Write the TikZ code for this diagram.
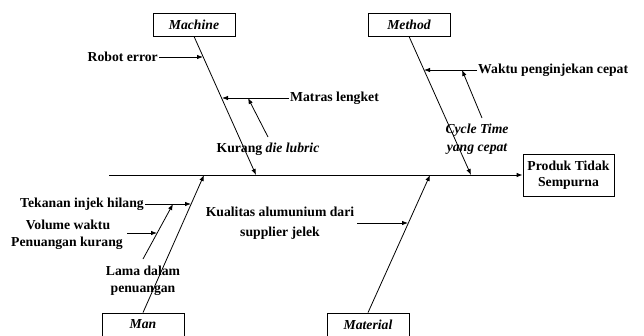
\documentclass[tikz,border=0pt]{standalone}
\usepackage{fontspec}
\setmainfont{Liberation Serif}[BoldFont={Liberation Serif Bold}, BoldItalicFont={Liberation Serif Bold Italic}, ItalicFont={Liberation Serif Italic}]
\usetikzlibrary{arrows.meta}
\begin{document}
\begin{tikzpicture}[x=1pt,y=-1pt,
  font=\fontsize{13.7}{17.5}\selectfont\bfseries,
  box/.style={draw, line width=0.8pt, inner sep=0pt, minimum width=82pt, minimum height=23pt, font=\fontsize{13.7}{17.5}\selectfont\bfseries\itshape},
  lbl/.style={inner sep=1pt},
  arr/.style={-{Latex[length=6pt,width=4.5pt]}, line width=0.8pt}]
\useasboundingbox (0,0) rectangle (644,335);

% category boxes
\node[box] (mach) at (194,24.5) {Machine};
\node[box] (meth) at (409,24.5) {Method};
\node[box] (man)  at (143,324.5) {Man};
\node[box] (mat)  at (368,324.5) {Material};
\node[box, minimum width=91pt, minimum height=42pt, align=center, font=\fontsize{13.7}{16}\selectfont\bfseries] (prod) at (568.5,175) {Produk Tidak\\Sempurna};

% spine
\coordinate (tail) at (109,175);
\draw[arr] (tail) -- (prod.west);

% bone ends on spine
\coordinate (jmach) at (256,175);
\coordinate (jmeth) at (471,175);
\coordinate (jman)  at (204,175);
\coordinate (jmat)  at (430,175);

\draw[arr] (mach.south) -- (jmach);
\draw[arr] (meth.south) -- (jmeth);
\draw[arr] (man.north) -- (jman);
\draw[arr] (mat.north) -- (jmat);

% Machine causes
\node[lbl, anchor=east] (robot) at (159,57) {Robot error};
\coordinate (probot) at (203,57);
\draw[arr] (robot.east) -- (probot);

\node[lbl, anchor=west] (matras) at (289,98) {Matras lengket};
\coordinate (pmatras) at (222,98);
\draw[arr] (matras.west) -- (pmatras);

\node[lbl] (kurang) at (268,149) {Kurang \textit{die lubric}};
\coordinate (skurang) at (268,137);
\coordinate (pkurang) at (248,98);
\draw[arr] (skurang) -- (pkurang);

% Method causes
\node[lbl, anchor=west] (waktu) at (477,70) {Waktu penginjekan cepat};
\coordinate (pwaktu) at (424,70);
\draw[arr] (waktu.west) -- (pwaktu);

\node[lbl, align=center, font=\fontsize{13.7}{18}\selectfont\bfseries\itshape] (cycle) at (477,139) {Cycle Time\\yang cepat};
\coordinate (scycle) at (482,118);
\coordinate (pcycle) at (462,70);
\draw[arr] (scycle) -- (pcycle);

% Material causes
\node[lbl, align=center, font=\fontsize{13.7}{20}\selectfont\bfseries] (kual) at (280,223) {Kualitas alumunium dari\\supplier jelek};
\coordinate (skual) at (357,223);
\coordinate (pkual) at (408,223);
\draw[arr] (skual) -- (pkual);

% Man causes
\node[lbl, anchor=east] (tekanan) at (145,204) {Tekanan injek hilang};
\coordinate (ptekanan) at (191,204);
\draw[arr] (tekanan.east) -- (ptekanan);

\node[lbl, align=center, font=\fontsize{13.7}{17}\selectfont\bfseries] (lama) at (143,281) {Lama dalam\\penuangan};
\coordinate (slama) at (143,259);
\coordinate (plama) at (173,204);
\draw[arr] (slama) -- (plama);

\node[lbl] (vol) at (68,225) {Volume waktu};
\node[lbl] (penu) at (67,243) {Penuangan kurang};
\coordinate (svol) at (127,233);
\coordinate (pvol) at (157,233);
\draw[arr] (svol) -- (pvol);
\end{tikzpicture}
\end{document}
